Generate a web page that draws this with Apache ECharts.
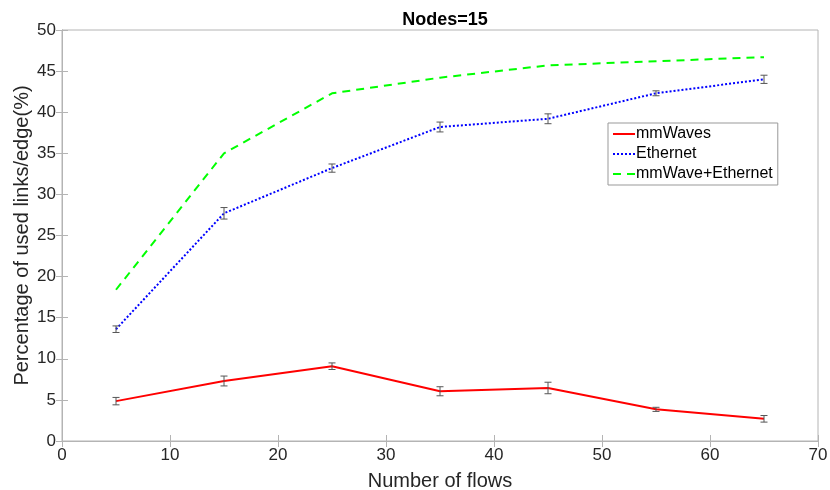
<!DOCTYPE html>
<html>
<head>
<meta charset="utf-8">
<script src="https://cdn.jsdelivr.net/npm/echarts@6/dist/echarts.min.js"></script>
<style>
  html, body { margin: 0; padding: 0; background: #fff; }
  #chart { width: 830px; height: 490px; }
</style>
</head>
<body>
<div id="chart"></div>
<script>
// Number of flows on the x axis
const flows = [5, 15, 25, 35, 45, 55, 65];

// Percentage of used links per edge, with error half-widths
const mmWaves = [4.85, 7.3, 9.1, 6.05, 6.45, 3.85, 2.7];
const mmWavesErr = [0.45, 0.6, 0.4, 0.55, 0.7, 0.25, 0.4];

const ethernet = [13.6, 27.7, 33.2, 38.2, 39.2, 42.3, 44.0];
const ethernetErr = [0.4, 0.7, 0.5, 0.6, 0.6, 0.3, 0.5];

const combined = [18.4, 35.0, 42.3, 44.2, 45.7, 46.2, 46.7];

const pairs = (ys) => flows.map((x, i) => [x, ys[i]]);
const errTriples = (ys, es) => flows.map((x, i) => [x, ys[i] - es[i], ys[i] + es[i]]);

function errorBarItem(params, api) {
  const x = api.value(0);
  const lo = api.coord([x, api.value(1)]);
  const hi = api.coord([x, api.value(2)]);
  const half = 3.5;
  const style = { stroke: '#555', lineWidth: 1 };
  return {
    type: 'group',
    children: [
      { type: 'line', shape: { x1: lo[0], y1: lo[1], x2: hi[0], y2: hi[1] }, style },
      { type: 'line', shape: { x1: lo[0] - half, y1: lo[1], x2: lo[0] + half, y2: lo[1] }, style },
      { type: 'line', shape: { x1: hi[0] - half, y1: hi[1], x2: hi[0] + half, y2: hi[1] }, style }
    ]
  };
}

const font = 'Liberation Sans, Arial, Helvetica, sans-serif';
const axisGrey = '#b4b4b4';
const labelColor = '#262626';

const chart = echarts.init(document.getElementById('chart'), null, { renderer: 'canvas' });

chart.setOption({
  animation: false,
  backgroundColor: '#fff',
  textStyle: { fontFamily: font },
  title: {
    text: 'Nodes=15',
    left: 440,
    top: 6,
    textAlign: 'center',
    textStyle: { fontFamily: font, fontSize: 18, fontWeight: 'bold', color: '#000' }
  },
  grid: {
    left: 62, right: 12, top: 30, bottom: 49,
    outerBoundsMode: 'none', containLabel: false,
    show: true, borderColor: axisGrey, borderWidth: 1
  },
  legend: {
    orient: 'vertical',
    left: 608,
    top: 123,
    padding: [3, 5, 3, 4],
    itemGap: 4,
    itemWidth: 22,
    itemHeight: 14,
    backgroundColor: '#fff',
    borderColor: '#999',
    borderWidth: 1,
    borderRadius: 0,
    itemStyle: { opacity: 0 },
    textStyle: { fontFamily: font, fontSize: 16, color: '#000', padding: [0, 0, 0, -4] },
    data: ['mmWaves', 'Ethernet', 'mmWave+Ethernet']
  },
  xAxis: [{
    type: 'value',
    min: 0, max: 70, interval: 10,
    name: 'Number of flows',
    nameLocation: 'middle',
    nameGap: 30,
    nameTextStyle: { fontFamily: font, fontSize: 20, color: labelColor },
    axisLine: { show: true, lineStyle: { color: axisGrey } },
    axisTick: { show: true, inside: true, length: 6, lineStyle: { color: axisGrey } },
    axisLabel: { fontFamily: font, fontSize: 17, color: labelColor, margin: 6 },
    splitLine: { show: false }
  }, {
    type: 'value', position: 'top',
    min: 0, max: 70, interval: 10,
    axisLine: { show: true, lineStyle: { color: axisGrey } },
    axisTick: { show: true, inside: true, length: 6, lineStyle: { color: axisGrey } },
    axisLabel: { show: false },
    splitLine: { show: false }
  }],
  yAxis: [{
    type: 'value',
    min: 0, max: 50, interval: 5,
    name: 'Percentage of used links/edge(%)',
    nameLocation: 'middle',
    nameGap: 30,
    nameMoveOverlap: false,
    nameTextStyle: { fontFamily: font, fontSize: 20, color: labelColor },
    axisLine: { show: true, lineStyle: { color: axisGrey } },
    axisTick: { show: true, inside: true, length: 6, lineStyle: { color: axisGrey } },
    axisLabel: { fontFamily: font, fontSize: 17, color: labelColor, margin: 6 },
    splitLine: { show: false }
  }, {
    type: 'value', position: 'right',
    min: 0, max: 50, interval: 5,
    axisLine: { show: true, lineStyle: { color: axisGrey } },
    axisTick: { show: true, inside: true, length: 6, lineStyle: { color: axisGrey } },
    axisLabel: { show: false },
    splitLine: { show: false }
  }],
  series: [
    {
      name: 'mmWaves', type: 'line', data: pairs(mmWaves),
      symbol: 'none', color: '#ff0000',
      lineStyle: { color: '#ff0000', width: 2, type: 'solid' }
    },
    {
      name: 'Ethernet', type: 'line', data: pairs(ethernet),
      symbol: 'none', color: '#0000ff',
      lineStyle: { color: '#0000ff', width: 2, type: [2, 2] }
    },
    {
      name: 'mmWave+Ethernet', type: 'line', data: pairs(combined),
      symbol: 'none', color: '#00ff00',
      lineStyle: { color: '#00ff00', width: 2, type: [8, 6] }
    },
    {
      type: 'custom', name: 'mmWavesErr', renderItem: errorBarItem,
      data: errTriples(mmWaves, mmWavesErr), encode: { x: 0, y: [1, 2] }, z: 5
    },
    {
      type: 'custom', name: 'ethernetErr', renderItem: errorBarItem,
      data: errTriples(ethernet, ethernetErr), encode: { x: 0, y: [1, 2] }, z: 5
    }
  ]
});
</script>
</body>
</html>
